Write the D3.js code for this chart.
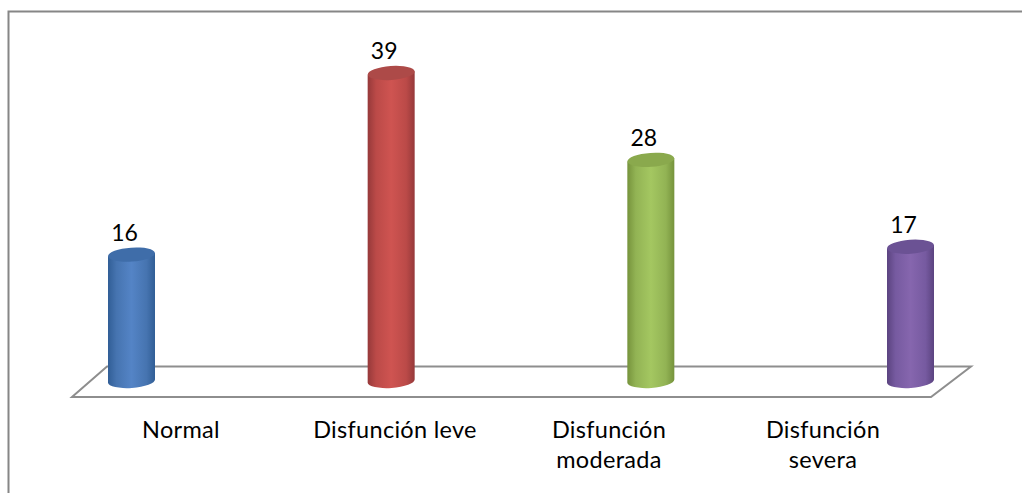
<!DOCTYPE html>
<html>
<head>
<meta charset="utf-8">
<style>
  html, body { margin: 0; padding: 0; background: #fff; }
  svg { display: block; }
  text { font-family: Lato, "Open Sans", sans-serif; fill: #000; }
</style>
</head>
<body>
<script src="https://d3js.org/d3.v7.min.js"></script>
<script>

  var categories = ["Normal", "Disfunción leve", "Disfunción moderada", "Disfunción severa"];
  var values = [16, 39, 28, 17];
  var labelLines = [["Normal"], ["Disfunción leve"], ["Disfunción", "moderada"], ["Disfunción", "severa"]];

  // side colours: edge, inner, middle / top cap colour
  var edgeColors = ["#315e96", "#96393a", "#76933c", "#5b4380"];
  var innerColors = ["#4674b0", "#bb4a48", "#92b354", "#765aa0"];
  var midColors = ["#5484c6", "#cf5451", "#a4c761", "#8666ae"];
  var capColors = ["#3f6da9", "#ad4a48", "#8aa94d", "#6b5294"];

  var width = 1022;
  var height = 493;

  var svg = d3.select("body")
      .append("svg")
      .attr("width", width)
      .attr("height", height);

  var x = d3.scalePoint().domain(categories).range([131.5, 910.5]);
  var labelX = d3.scalePoint().domain(categories).range([181, 823]);
  var y = d3.scaleLinear().domain([0, 39]).range([381, 73]);

  var rx = 23.5;
  var ry = 7;
  var tilt = -4;

  // gradients for the cylinders
  var defs = svg.append("defs");
  categories.forEach(function (c, i) {
    var grad = defs.append("linearGradient")
        .attr("id", "side" + i)
        .attr("x1", "0%").attr("x2", "100%")
        .attr("y1", "0%").attr("y2", "0%");
    grad.append("stop").attr("offset", "0%").attr("stop-color", edgeColors[i]);
    grad.append("stop").attr("offset", "18%").attr("stop-color", innerColors[i]);
    grad.append("stop").attr("offset", "50%").attr("stop-color", midColors[i]);
    grad.append("stop").attr("offset", "82%").attr("stop-color", innerColors[i]);
    grad.append("stop").attr("offset", "100%").attr("stop-color", edgeColors[i]);
  });

  // frame: only the top and left edges show in the picture
  svg.append("path")
      .attr("d", "M8.5,493V11.5H1022")
      .attr("fill", "none")
      .attr("stroke", "#868686")
      .attr("stroke-width", 2);

  // floor
  svg.append("path")
      .attr("d", "M72,397L107,366.5H971L931,397Z")
      .attr("fill", "#fff")
      .attr("stroke", "#8e8e8e")
      .attr("stroke-width", 2);

  var bar = svg.selectAll(".bar")
      .data(categories)
      .enter()
      .append("g")
      .attr("class", "bar");

  bar.append("path")
      .attr("fill", function (d, i) { return "url(#side" + i + ")"; })
      .attr("d", function (d, i) {
        var cx = x(d);
        var dy = rx * Math.sin(tilt * Math.PI / 180);
        var top = y(values[i]);
        var bottom = y(0);
        return "M" + (cx - rx) + "," + (top - dy) +
            "L" + (cx - rx) + "," + (bottom - dy) +
            "A" + rx + "," + ry + " " + tilt + " 0 0 " + (cx + rx) + "," + (bottom + dy) +
            "L" + (cx + rx) + "," + (top + dy) + "Z";
      });

  bar.append("ellipse")
      .attr("rx", rx)
      .attr("ry", ry)
      .attr("fill", function (d, i) { return capColors[i]; })
      .attr("transform", function (d, i) {
        return "translate(" + x(d) + "," + y(values[i]) + ") rotate(" + tilt + ")";
      });

  // value labels
  bar.append("text")
      .attr("x", function (d) { return x(d) - 7; })
      .attr("y", function (d, i) { return y(values[i]) - 14; })
      .attr("text-anchor", "middle")
      .attr("font-size", 23)
      .text(function (d, i) { return values[i]; });

  // category labels
  var label = svg.selectAll(".cat")
      .data(categories)
      .enter()
      .append("text")
      .attr("class", "cat")
      .attr("text-anchor", "middle")
      .attr("font-size", 23.5)
      .attr("letter-spacing", 0.3);

  label.selectAll("tspan")
      .data(function (d, i) {
        return labelLines[i].map(function (t) { return {text: t, cat: d}; });
      })
      .enter()
      .append("tspan")
      .attr("x", function (d) { return labelX(d.cat); })
      .attr("y", function (d, i) { return 438 + i * 30; })
      .text(function (d) { return d.text; });

</script>
</body>
</html>
